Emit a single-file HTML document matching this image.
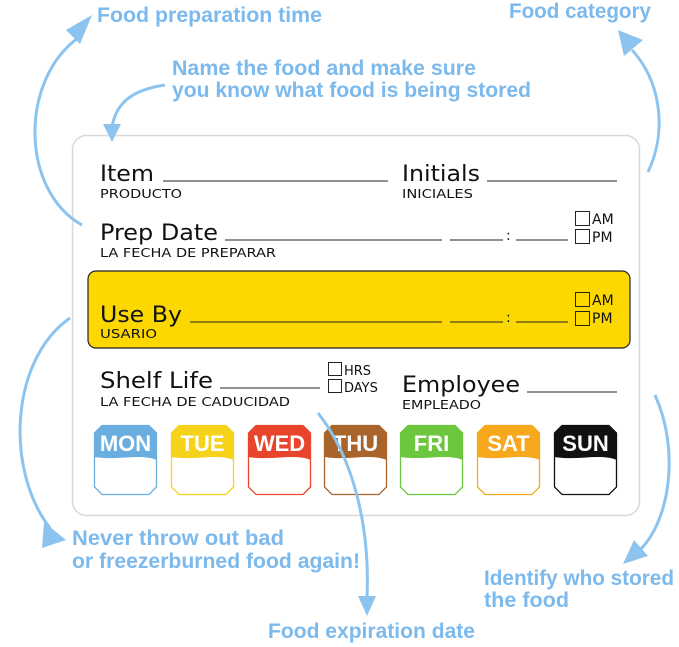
<!DOCTYPE html>
<html><head><meta charset="utf-8"><style>
body{margin:0;background:#fff;}
svg{display:block}
.a{font-family:"Liberation Sans Narrow","Liberation Sans",sans-serif;font-weight:bold;fill:#7cb9ec;font-size:21px}
.t{font-family:"DejaVu Sans","Liberation Sans",sans-serif;fill:#111}
.big{font-size:22px}
.sm{font-size:12px}
.ln{stroke:#222;stroke-width:1}
.ar{fill:none;stroke:#8cc4ef;stroke-width:3}
.hd{fill:#8cc4ef}
.d{font-family:"Liberation Sans",sans-serif;font-weight:bold;font-size:22px;fill:#fff}
</style></head><body>
<svg width="679" height="647" viewBox="0 0 679 647" xmlns="http://www.w3.org/2000/svg">
<rect width="679" height="647" fill="#fff"/>
<rect x="72.5" y="135.5" width="567" height="380" rx="14" fill="#fff" stroke="#d8d8d8" stroke-width="1.5"/>
<rect x="88" y="271" width="542" height="77" rx="8" fill="#fcd800" stroke="#222" stroke-width="1.2"/>

<path class="ar" d="M82,225 C20,190 20,80 78,38"/>
<polygon class="hd" points="92,15 66,30 80,44"/>
<path class="ar" d="M165,85 C130,90 115,105 112,128"/>
<polygon class="hd" points="103,124 121,124 112,142"/>
<path class="ar" d="M648,172 C668,130 660,80 632,50"/>
<polygon class="hd" points="618,30 643,40 624,56"/>
<path class="ar" d="M70,318 C10,360 5,470 50,528"/>
<polygon class="hd" points="66,540 44,522 42,548"/>
<path class="ar" d="M655,395 C680,450 670,520 640,550"/>
<polygon class="hd" points="623,564 634,540 648,556"/>

<text class="a" x="97" y="22" textLength="225" lengthAdjust="spacingAndGlyphs">Food preparation time</text>
<text class="a" x="509" y="18" textLength="142" lengthAdjust="spacingAndGlyphs">Food category</text>
<text class="a" x="172" y="75" textLength="304" lengthAdjust="spacingAndGlyphs">Name the food and make sure</text>
<text class="a" x="172" y="97" textLength="359" lengthAdjust="spacingAndGlyphs">you know what food is being stored</text>
<text class="a" x="72" y="545" textLength="212" lengthAdjust="spacingAndGlyphs">Never throw out bad</text>
<text class="a" x="72" y="568" textLength="288" lengthAdjust="spacingAndGlyphs">or freezerburned food again!</text>
<text class="a" x="484" y="585" textLength="190" lengthAdjust="spacingAndGlyphs">Identify who stored</text>
<text class="a" x="484" y="607" textLength="85" lengthAdjust="spacingAndGlyphs">the food</text>
<text class="a" x="268" y="638" textLength="207" lengthAdjust="spacingAndGlyphs">Food expiration date</text>

<text class="t big" x="100" y="181" textLength="54" lengthAdjust="spacingAndGlyphs">Item</text>
<text class="t sm" x="100" y="198" textLength="82" lengthAdjust="spacingAndGlyphs">PRODUCTO</text>
<line class="ln" x1="163" y1="181" x2="388" y2="181"/>
<text class="t big" x="402" y="181" textLength="78" lengthAdjust="spacingAndGlyphs">Initials</text>
<text class="t sm" x="402" y="198" textLength="71" lengthAdjust="spacingAndGlyphs">INICIALES</text>
<line class="ln" x1="487" y1="181" x2="617" y2="181"/>

<text class="t big" x="100" y="240" textLength="118" lengthAdjust="spacingAndGlyphs">Prep Date</text>
<text class="t sm" x="100" y="257" textLength="176" lengthAdjust="spacingAndGlyphs">LA FECHA DE PREPARAR</text>
<line class="ln" x1="225" y1="240" x2="442" y2="240"/>
<line class="ln" x1="450" y1="240" x2="503" y2="240"/>
<text class="t" x="506" y="240" font-size="14">:</text>
<line class="ln" x1="516" y1="240" x2="568" y2="240"/>
<rect x="575.5" y="211.5" width="14" height="14" fill="none" stroke="#222"/>
<rect x="575.5" y="229.5" width="14" height="14" fill="none" stroke="#222"/>
<text class="t" x="592" y="224" font-size="14">AM</text>
<text class="t" x="592" y="242" font-size="14">PM</text>

<text class="t big" x="100" y="322" textLength="82" lengthAdjust="spacingAndGlyphs">Use By</text>
<text class="t sm" x="100" y="338" textLength="57" lengthAdjust="spacingAndGlyphs">USARIO</text>
<line class="ln" x1="190" y1="322" x2="442" y2="322"/>
<line class="ln" x1="450" y1="322" x2="503" y2="322"/>
<text class="t" x="506" y="322" font-size="14">:</text>
<line class="ln" x1="516" y1="322" x2="568" y2="322"/>
<rect x="575.5" y="292.5" width="14" height="14" fill="none" stroke="#222"/>
<rect x="575.5" y="311.5" width="14" height="14" fill="none" stroke="#222"/>
<text class="t" x="592" y="305" font-size="14">AM</text>
<text class="t" x="592" y="323" font-size="14">PM</text>

<text class="t big" x="100" y="388" textLength="113" lengthAdjust="spacingAndGlyphs">Shelf Life</text>
<text class="t sm" x="100" y="406" textLength="190" lengthAdjust="spacingAndGlyphs">LA FECHA DE CADUCIDAD</text>
<line class="ln" x1="220" y1="388" x2="320" y2="388"/>
<rect x="328.5" y="362.5" width="13" height="13" fill="none" stroke="#222"/>
<rect x="328.5" y="379.5" width="13" height="13" fill="none" stroke="#222"/>
<text class="t" x="344" y="375" font-size="13">HRS</text>
<text class="t" x="344" y="392" font-size="13">DAYS</text>
<text class="t big" x="402" y="392" textLength="118" lengthAdjust="spacingAndGlyphs">Employee</text>
<text class="t sm" x="402" y="409" textLength="79" lengthAdjust="spacingAndGlyphs">EMPLEADO</text>
<line class="ln" x1="527" y1="392" x2="617" y2="392"/>

<defs>
<clipPath id="oct"><path d="M8,0 H55 L63,8 V62 L55,70 H8 L0,62 V8 Z"/></clipPath>
</defs>
<g transform="translate(94,425)"><g clip-path="url(#oct)"><path d="M0,0 H63 V35 C45,28 25,36 0,32 Z" fill="#6aaee0"/></g><path d="M8,0.5 H55 L62.5,8 V62 L55,69.5 H8 L0.5,62 V8 Z" fill="none" stroke="#6aaee0" stroke-width="1.3"/><text class="d" x="31.5" y="26" text-anchor="middle">MON</text></g>
<g transform="translate(171,425)"><g clip-path="url(#oct)"><path d="M0,0 H63 V35 C45,28 25,36 0,32 Z" fill="#f6d21a"/></g><path d="M8,0.5 H55 L62.5,8 V62 L55,69.5 H8 L0.5,62 V8 Z" fill="none" stroke="#f6d21a" stroke-width="1.3"/><text class="d" x="31.5" y="26" text-anchor="middle">TUE</text></g>
<g transform="translate(248,425)"><g clip-path="url(#oct)"><path d="M0,0 H63 V35 C45,28 25,36 0,32 Z" fill="#e8452c"/></g><path d="M8,0.5 H55 L62.5,8 V62 L55,69.5 H8 L0.5,62 V8 Z" fill="none" stroke="#e8452c" stroke-width="1.3"/><text class="d" x="31.5" y="26" text-anchor="middle">WED</text></g>
<g transform="translate(324,425)"><g clip-path="url(#oct)"><path d="M0,0 H63 V35 C45,28 25,36 0,32 Z" fill="#a8642a"/></g><path d="M8,0.5 H55 L62.5,8 V62 L55,69.5 H8 L0.5,62 V8 Z" fill="none" stroke="#a8642a" stroke-width="1.3"/><text class="d" x="31.5" y="26" text-anchor="middle">THU</text></g>
<g transform="translate(400,425)"><g clip-path="url(#oct)"><path d="M0,0 H63 V35 C45,28 25,36 0,32 Z" fill="#6cc63e"/></g><path d="M8,0.5 H55 L62.5,8 V62 L55,69.5 H8 L0.5,62 V8 Z" fill="none" stroke="#6cc63e" stroke-width="1.3"/><text class="d" x="31.5" y="26" text-anchor="middle">FRI</text></g>
<g transform="translate(477,425)"><g clip-path="url(#oct)"><path d="M0,0 H63 V35 C45,28 25,36 0,32 Z" fill="#f7a81c"/></g><path d="M8,0.5 H55 L62.5,8 V62 L55,69.5 H8 L0.5,62 V8 Z" fill="none" stroke="#f7a81c" stroke-width="1.3"/><text class="d" x="31.5" y="26" text-anchor="middle">SAT</text></g>
<g transform="translate(554,425)"><g clip-path="url(#oct)"><path d="M0,0 H63 V35 C45,28 25,36 0,32 Z" fill="#111"/></g><path d="M8,0.5 H55 L62.5,8 V62 L55,69.5 H8 L0.5,62 V8 Z" fill="none" stroke="#111" stroke-width="1.3"/><text class="d" x="31.5" y="26" text-anchor="middle">SUN</text></g>
<path class="ar" d="M318,413 C355,460 370,530 367,598"/>
<polygon class="hd" points="358,596 376,596 367,616"/>
</svg>
</body></html>
